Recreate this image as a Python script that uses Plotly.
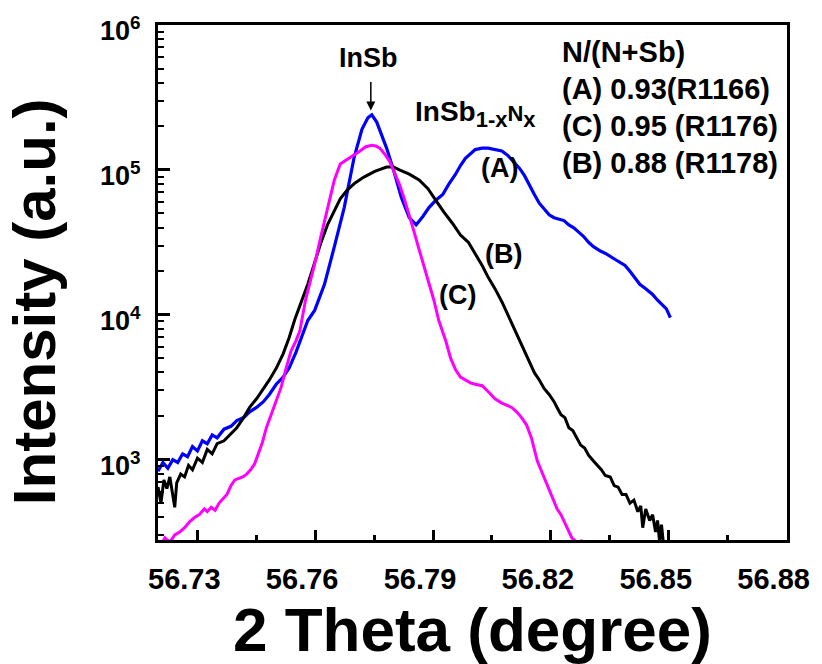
import plotly.graph_objects as go

# ---------------- data ----------------
theta_A = [56.72000, 56.72125, 56.72251, 56.72376, 56.72502, 56.72627, 56.72752, 56.72878,
           56.73003, 56.73129, 56.73254, 56.73379, 56.73505, 56.73680, 56.73856, 56.74006,
           56.74182, 56.74332, 56.74508, 56.74683, 56.74834, 56.75009, 56.75185, 56.75335,
           56.75511, 56.75686, 56.75812, 56.75987, 56.76238, 56.76489, 56.76740, 56.76991,
           56.77191, 56.77342, 56.77442, 56.77567, 56.77693, 56.77818, 56.77994, 56.78194,
           56.78395, 56.78570, 56.78746, 56.78896, 56.79072, 56.79248, 56.79398, 56.79574,
           56.79699, 56.79824, 56.80075, 56.80251, 56.80401, 56.80577, 56.80752, 56.80903,
           56.81078, 56.81204, 56.81329, 56.81454, 56.81580, 56.81705, 56.81831, 56.81956,
           56.82081, 56.82207, 56.82332, 56.82458, 56.82583, 56.82708, 56.82834, 56.82959,
           56.83084, 56.83260, 56.83410, 56.83586, 56.83762, 56.83887, 56.84012, 56.84138,
           56.84263, 56.84414, 56.84589, 56.84715, 56.84840, 56.84940, 56.85041]
int_A = [832, 955, 871, 1000, 955, 1096, 1047, 1230,
         1148, 1349, 1288, 1479, 1413, 1622, 1698, 1862,
         1950, 2138, 2291, 2512, 2818, 3311, 3715, 4266,
         5495, 7244, 9120, 10715, 16218, 29512, 54954, 121619,
         190546, 229087, 239883, 213796, 173780, 141254, 100000, 64565,
         46774, 41687, 47863, 54954, 61660, 67608, 79433, 93325,
         107152, 120226, 138038, 141254, 141254, 138038, 134896, 125893,
         112202, 102329, 91201, 77625, 67608, 58884, 53703, 48978,
         46774, 45709, 44668, 41687, 39811, 37154, 34674, 31623,
         29512, 27542, 26303, 24547, 22909, 21878, 19953, 17783,
         16218, 15136, 13804, 12589, 11749, 10965, 9550]

theta_B = [56.72000, 56.72075, 56.72150, 56.72226, 56.72301, 56.72426, 56.72476, 56.72577,
           56.72677, 56.72777, 56.72878, 56.73003, 56.73129, 56.73254, 56.73379, 56.73505,
           56.73680, 56.73831, 56.74006, 56.74157, 56.74332, 56.74508, 56.74683, 56.74834,
           56.75009, 56.75185, 56.75335, 56.75486, 56.75636, 56.75812, 56.75987, 56.76138,
           56.76313, 56.76489, 56.76639, 56.76815, 56.77016, 56.77241, 56.77517, 56.77818,
           56.77994, 56.78144, 56.78395, 56.78646, 56.78871, 56.79072, 56.79273, 56.79498,
           56.79699, 56.79900, 56.80075, 56.80251, 56.80401, 56.80577, 56.80752, 56.80903,
           56.81078, 56.81254, 56.81404, 56.81580, 56.81705, 56.81831, 56.81956, 56.82081,
           56.82157, 56.82257, 56.82357, 56.82458, 56.82558, 56.82658, 56.82758, 56.82859,
           56.82959, 56.83084, 56.83185, 56.83285, 56.83385, 56.83511, 56.83611, 56.83711,
           56.83812, 56.83912, 56.84012, 56.84113, 56.84213, 56.84288, 56.84338, 56.84414,
           56.84514, 56.84589, 56.84665, 56.84715, 56.84765, 56.84815, 56.84865]
int_B = [646, 501, 724, 631, 759, 468, 692, 794,
         759, 912, 851, 1023, 955, 1175, 1096, 1288,
         1349, 1479, 1660, 1905, 2291, 2630, 3090, 3548,
         4266, 5370, 6918, 9333, 12023, 16218, 22909, 30903,
         41687, 52481, 63096, 72444, 81283, 89125, 97724, 104713,
         104713, 100000, 93325, 85114, 74131, 61660, 51286, 42658,
         35481, 31623, 26303, 21878, 18197, 15136, 12303, 10000,
         7943, 6310, 5012, 3981, 3548, 3090, 2818, 2512,
         2291, 2042, 1950, 1660, 1585, 1413, 1259, 1202,
         1072, 977, 912, 851, 776, 759, 661, 646,
         575, 575, 501, 525, 437, 479, 339, 457,
         380, 417, 316, 380, 275, 355, 263]

theta_C = [56.72050, 56.72176, 56.72301, 56.72426, 56.72552, 56.72677, 56.72803, 56.72928,
           56.73053, 56.73179, 56.73254, 56.73354, 56.73455, 56.73555, 56.73655, 56.73755,
           56.73856, 56.73956, 56.74056, 56.74157, 56.74257, 56.74357, 56.74458, 56.74558,
           56.74658, 56.74759, 56.74884, 56.75009, 56.75135, 56.75260, 56.75386, 56.75511,
           56.75611, 56.75762, 56.75887, 56.75987, 56.76138, 56.76313, 56.76489, 56.76639,
           56.76815, 56.76991, 56.77141, 56.77291, 56.77442, 56.77542, 56.77643, 56.77768,
           56.77893, 56.78019, 56.78144, 56.78270, 56.78395, 56.78520, 56.78646, 56.78771,
           56.78896, 56.79022, 56.79147, 56.79323, 56.79448, 56.79574, 56.79699, 56.79824,
           56.79950, 56.80075, 56.80251, 56.80401, 56.80577, 56.80752, 56.80878, 56.81003,
           56.81128, 56.81254, 56.81379, 56.81505, 56.81655, 56.81780, 56.81906, 56.82031,
           56.82157, 56.82257, 56.82407, 56.82533, 56.82658, 56.82783, 56.82884, 56.82984,
           56.83084]
int_C = [251, 288, 269, 302, 316, 339, 372, 398,
         417, 457, 437, 468, 447, 501, 537, 575,
         661, 724, 741, 759, 794, 851, 933, 1096,
         1318, 1660, 2042, 2512, 3162, 4266, 5623, 6607,
         7762, 12882, 17378, 22387, 33884, 54954, 85114, 109648,
         117490, 125893, 134896, 144544, 147911, 146218, 141254, 128825,
         114815, 95499, 79433, 63096, 48978, 37154, 28184, 21380,
         16218, 12589, 9120, 6607, 5012, 4169, 3715, 3548,
         3388, 3311, 3236, 2951, 2630, 2455, 2371, 2291,
         2138, 1950, 1738, 1413, 977, 813, 676, 550,
         457, 417, 339, 288, 269, 275, 263, 269,
         251]

x_tickvals = [56.73, 56.76, 56.79, 56.82, 56.85, 56.88]
x_ticktext = ["56.73", "56.76", "56.79", "56.82", "56.85", "56.88"]
x_minor = [56.745, 56.775, 56.805, 56.835, 56.865]
y_tickvals = [1e3, 1e4, 1e5, 1e6]
y_ticktext = ["10<sup>3</sup>", "10<sup>4</sup>", "10<sup>5</sup>", "10<sup>6</sup>"]
y_minor = [m * 10 ** k for k in range(2, 6) for m in range(2, 10) if m * 10 ** k > 280]

legend_lines = ["N/(N+Sb)", "(A) 0.93(R1166)", "(C) 0.95 (R1176)", "(B) 0.88 (R1178)"]

# ---------------- figure ----------------
W, H = 822, 664
L, R, T, B = 158, 26, 22, 124
PW, PH = W - L - R, H - T - B
FONT = "Arial, 'Liberation Sans', sans-serif"


def px(xp):
    return (xp - L) / PW


def py(yp):
    return (H - B - yp) / PH


fig = go.Figure()
fig.add_trace(go.Scatter(x=theta_A, y=int_A, mode="lines", line=dict(color="#0000ff", width=3.2)))
fig.add_trace(go.Scatter(x=theta_B, y=int_B, mode="lines", line=dict(color="#000000", width=3)))
fig.add_trace(go.Scatter(x=theta_C, y=int_C, mode="lines", line=dict(color="#ff00ff", width=3)))

fig.update_layout(
    width=W, height=H, margin=dict(l=L, r=R, t=T, b=B, pad=0),
    paper_bgcolor="white", plot_bgcolor="white", showlegend=False,
    font=dict(family=FONT, color="black", weight="bold"),
)
fig.update_xaxes(
    range=[56.72, 56.8801], tickmode="array", tickvals=x_tickvals, ticktext=x_ticktext,
    ticks="inside", ticklen=10, tickwidth=3, tickcolor="black",
    minor=dict(tickmode="array", tickvals=x_minor, ticks="inside", ticklen=5, tickwidth=3, tickcolor="black"),
    showline=True, linewidth=3, linecolor="black", mirror=True, showgrid=False, zeroline=False,
    tickfont=dict(size=29, family=FONT, weight="bold"), ticklabelstandoff=11, ticklabelshift=-13,
)
fig.update_yaxes(
    type="log", range=[2.445, 6.0], tickmode="array", tickvals=y_tickvals, ticktext=y_ticktext,
    ticks="inside", ticklen=12, tickwidth=3, tickcolor="black",
    minor=dict(tickmode="array", tickvals=y_minor, ticks="inside", ticklen=6, tickwidth=2, tickcolor="black"),
    showline=True, linewidth=3, linecolor="black", mirror=True, showgrid=False, zeroline=False,
    tickfont=dict(size=27, family=FONT, weight="bold"), ticklabelstandoff=9, ticklabelshift=6,
)

DY = -6  # small vertical correction for annotation boxes
ann = []
# axis titles
ann.append(dict(text="2 Theta (degree)", xref="paper", yref="paper", x=px(477), y=py(630),
                xanchor="center", yanchor="middle", showarrow=False,
                font=dict(size=62, family=FONT, weight="bold")))
ann.append(dict(text="Intensity (a.u.)", xref="paper", yref="paper", x=px(33), y=py(300),
                xanchor="center", yanchor="middle", showarrow=False, textangle=-90,
                font=dict(size=60, family=FONT, weight="bold")))
# labels
ann.append(dict(text="InSb", xref="paper", yref="paper", x=px(372), y=py(61 + DY),
                xanchor="center", yanchor="middle", showarrow=False, font=dict(size=27)))
ann.append(dict(text="", xref="x", yref="y", x=56.77417, y=5.41, ax=0, ay=-30,
                axref="pixel", ayref="pixel", showarrow=True, arrowhead=2, arrowsize=1.2,
                arrowwidth=1.5, arrowcolor="black"))
ann.append(dict(text="InSb<sub><span style='font-size:22px'>1-x</span></sub>"
                     "<span style='font-size:22px'>N</span>"
                     "<sub><span style='font-size:22px'>x</span></sub>",
                xref="paper", yref="paper", x=px(417), y=py(118 + DY),
                xanchor="left", yanchor="middle", showarrow=False, font=dict(size=28)))
ann.append(dict(text="(A)", xref="paper", yref="paper", x=px(504), y=py(172 + DY),
                xanchor="center", yanchor="middle", showarrow=False, font=dict(size=27)))
ann.append(dict(text="(B)", xref="paper", yref="paper", x=px(508), y=py(258 + DY),
                xanchor="center", yanchor="middle", showarrow=False, font=dict(size=27)))
ann.append(dict(text="(C)", xref="paper", yref="paper", x=px(462), y=py(300 + DY),
                xanchor="center", yanchor="middle", showarrow=False, font=dict(size=27)))
for i, line in enumerate(legend_lines):
    ann.append(dict(text=line, xref="paper", yref="paper", x=px(566), y=py(55 + 37.3 * i + DY),
                    xanchor="left", yanchor="middle", showarrow=False, font=dict(size=29)))
fig.update_layout(annotations=ann)

fig.write_html("out.html")
